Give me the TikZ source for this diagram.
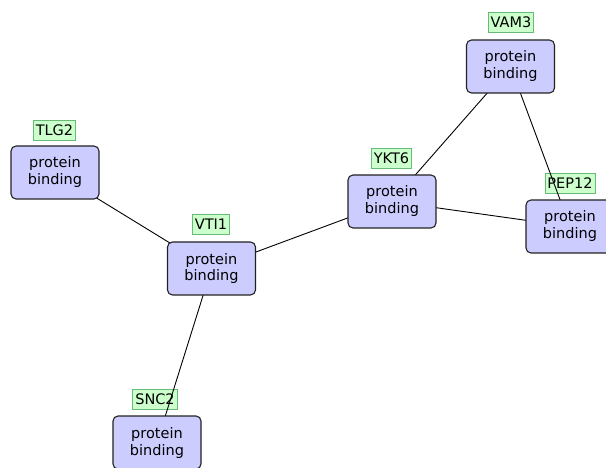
\documentclass[tikz,border=0pt]{standalone}
\usepackage{fontspec}
\setmainfont{DejaVu Sans}
\definecolor{boxfill}{HTML}{CCCCFF}
\definecolor{boxline}{HTML}{222222}
\definecolor{labfill}{HTML}{CCFFCC}
\definecolor{labline}{HTML}{66BB77}
\begin{document}
\begin{tikzpicture}[x=1pt,y=-1pt,
  gene/.style={draw=boxline, fill=boxfill, rounded corners=5pt, line width=1.1pt,
    minimum width=88pt, minimum height=53pt, inner sep=0pt, align=center,
    font=\fontsize{14.5}{17}\selectfont},
  tag/.style={draw=labline, fill=labfill, line width=0.8pt, inner sep=2.5pt,
    minimum height=20pt, font=\fontsize{14.5}{16}\selectfont},
  link/.style={draw=black, line width=0.9pt}]
\useasboundingbox (0,0) rectangle (606,468);
\clip (0,0) rectangle (606,468);
% labels
\node[tag] (lTLG2) at (54.5,130.5) {TLG2};
\node[tag] (lVAM3) at (511,22) {VAM3};
\node[tag] (lYKT6) at (391.5,158) {YKT6};
\node[tag] (lPEP12) at (570,183.5) {PEP12};
\node[tag] (lVTI1) at (211,224.5) {VTI1};
\node[tag] (lSNC2) at (155,399.5) {SNC2};
% node centres
\coordinate (cTLG2) at (55,172.5);
\coordinate (cVAM3) at (510.5,66.5);
\coordinate (cYKT6) at (392,201.5);
\coordinate (cPEP12) at (570,226.5);
\coordinate (cVTI1) at (211.5,268.5);
\coordinate (cSNC2) at (157,442.5);
% edges
\draw[link] (cTLG2) -- (cVTI1);
\draw[link] (cVTI1) -- (cYKT6);
\draw[link] (cVTI1) -- (cSNC2);
\draw[link] (cYKT6) -- (cVAM3);
\draw[link] (cYKT6) -- (cPEP12);
\draw[link] (cVAM3) -- (cPEP12);
% boxes
\node[gene] (TLG2) at (cTLG2) {protein\\binding};
\node[gene] (VAM3) at (cVAM3) {protein\\binding};
\node[gene] (YKT6) at (cYKT6) {protein\\binding};
\node[gene] (PEP12) at (cPEP12) {protein\\binding};
\node[gene] (VTI1) at (cVTI1) {protein\\binding};
\node[gene] (SNC2) at (cSNC2) {protein\\binding};
\end{tikzpicture}
\end{document}
